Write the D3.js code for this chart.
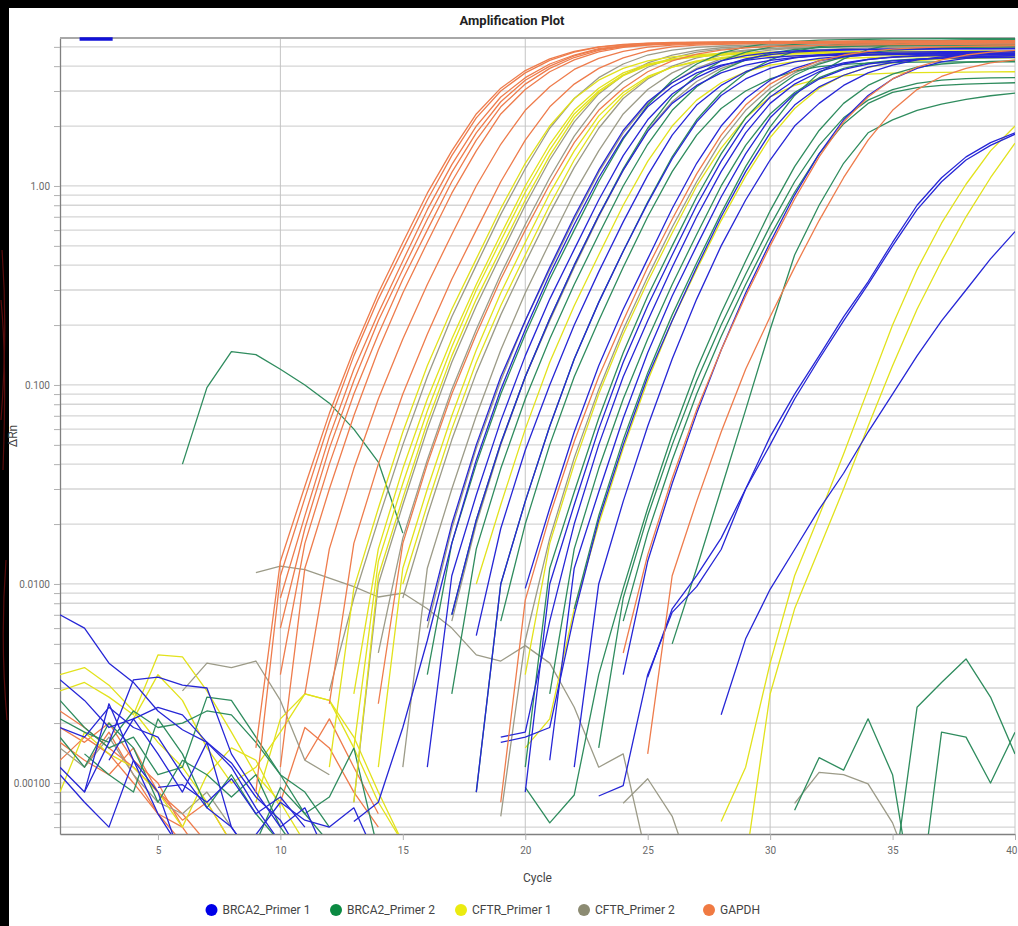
<!DOCTYPE html>
<html>
<head>
<meta charset="utf-8">
<script src="https://cdn.jsdelivr.net/npm/d3@7"></script>
<style>
  body { margin: 0; background: #fff; }
  svg { display: block; font-family: Roboto, "Liberation Sans", Arial, sans-serif; }
</style>
</head>
<body>
<div id="chart"></div>
<script>
// ---- data (dRn per cycle; each curve starts at cycle s) ----
var groups = ["BRCA2_Primer 1", "BRCA2_Primer 2", "CFTR_Primer 1", "CFTR_Primer 2", "GAPDH"];
var cycleTicks = [5, 10, 15, 20, 25, 30, 35, 40];
var yGrid = [0.0006, 0.0007, 0.0008, 0.0009,
  0.001, 0.002, 0.003, 0.004, 0.005, 0.006, 0.007, 0.008, 0.009,
  0.01, 0.02, 0.03, 0.04, 0.05, 0.06, 0.07, 0.08, 0.09,
  0.1, 0.2, 0.3, 0.4, 0.5, 0.6, 0.7, 0.8, 0.9,
  1, 2, 3, 4, 5];
var yLabels = [0.001, 0.01, 0.1, 1];

var gapdh = [
  {s: 9, v: [0.0015,0.013,0.031,0.072,0.15,0.29,0.52,0.92,1.5,2.3,3.1,3.8,4.35,4.75,5.0,5.15,5.22,5.26,5.28,5.3,5.31,5.32,5.33,5.33,5.34,5.35,5.35,5.36,5.36,5.37,5.37,5.38]},
  {s: 9, v: [0.0009,0.011,0.027,0.065,0.14,0.27,0.48,0.85,1.42,2.2,3.0,3.7,4.28,4.7,4.98,5.12,5.2,5.24,5.26,5.28,5.29,5.3,5.31,5.31,5.32,5.33,5.33,5.34,5.34,5.35,5.35,5.35]},
  {s: 10, v: [0.0085,0.022,0.055,0.12,0.23,0.42,0.76,1.28,2.0,2.8,3.5,4.1,4.55,4.9,5.06,5.15,5.2,5.23,5.25,5.26,5.27,5.28,5.29,5.3,5.3,5.31,5.31,5.32,5.32,5.33,5.33]},
  {s: 10, v: [0.006,0.019,0.048,0.105,0.21,0.38,0.68,1.17,1.85,2.65,3.4,4.0,4.5,4.85,5.05,5.14,5.2,5.22,5.24,5.25,5.26,5.27,5.28,5.28,5.29,5.29,5.3,5.3,5.3,5.31,5.31]},
  {s: 10, v: [0.0035,0.016,0.04,0.09,0.18,0.34,0.6,1.05,1.7,2.5,3.25,3.9,4.42,4.8,5.02,5.13,5.18,5.2,5.22,5.23,5.24,5.25,5.26,5.26,5.27,5.27,5.28,5.28,5.28,5.29,5.29]},
  {s: 10, v: [0.0012,0.012,0.03,0.07,0.15,0.29,0.52,0.92,1.5,2.3,3.05,3.75,4.3,4.72,4.97,5.1,5.16,5.19,5.21,5.22,5.23,5.24,5.24,5.25,5.25,5.26,5.26,5.26,5.27,5.27,5.27]},
  {s: 11, v: [0.0028,0.015,0.038,0.085,0.17,0.32,0.57,1.0,1.62,2.4,3.15,3.85,4.38,4.75,4.98,5.1,5.16,5.19,5.21,5.22,5.23,5.24,5.24,5.25,5.25,5.25,5.26,5.26,5.26,5.26]},
  {s: 12, v: [0.0025,0.016,0.04,0.09,0.18,0.34,0.6,1.05,1.7,2.5,3.25,3.9,4.4,4.78,5.0,5.1,5.15,5.18,5.2,5.21,5.22,5.22,5.23,5.23,5.24,5.24,5.24,5.25,5.25]},
  {s: 14, v: [0.0025,0.016,0.04,0.09,0.18,0.34,0.6,1.02,1.65,2.4,3.1,3.75,4.25,4.6,4.82,4.95,5.02,5.06,5.09,5.11,5.12,5.13,5.14,5.15,5.15,5.16,5.16]},
  {s: 19, v: [0.0008,0.0083,0.022,0.052,0.11,0.21,0.39,0.68,1.15,1.8,2.55,3.25,3.8,4.25,4.55,4.75,4.87,4.95,5.0,5.03,5.05,5.07]},
  {s: 24, v: [0.0045,0.014,0.034,0.075,0.15,0.28,0.5,0.86,1.4,2.1,2.8,3.45,3.95,4.3,4.55,4.7,4.8]},
  {s: 25, v: [0.0014,0.011,0.026,0.058,0.12,0.22,0.39,0.67,1.1,1.7,2.4,3.05,3.55,3.9,4.15,4.3]}
];
var gapdhNoise = [
  {s: 1, v: [0.0023,0.0019,0.0015,0.0012,0.0009,0.0007,0.0005]},
  {s: 1, v: [0.0019,0.0016,0.002,0.0013,0.001,0.0006]},
  {s: 1, v: [0.0016,0.0013,0.0011,0.0015,0.0009,0.00065,0.0008,0.0005]},
  {s: 1, v: [0.0013,0.0017,0.0014,0.001,0.0007,0.0005]},
  {s: 2, v: [0.0012,0.0018,0.0011,0.0007,0.0006,0.0004]},
  {s: 10, v: [0.0008,0.0019,0.0015,0.0009,0.0006]},
  {s: 11, v: [0.0013,0.0021,0.0012,0.0007]}
];

var cftrP1 = [
  {s: 12, v: [0.0012,0.0095,0.024,0.058,0.125,0.24,0.43,0.77,1.3,2.0,2.75,3.4,3.9,4.25,4.45,4.57,4.63,4.67,4.7,4.72,4.73,4.74,4.75,4.75,4.76,4.76,4.77,4.77,4.77]},
  {s: 13, v: [0.0028,0.015,0.038,0.085,0.17,0.32,0.57,1.0,1.62,2.4,3.1,3.7,4.1,4.35,4.5,4.58,4.62,4.65,4.67,4.68,4.69,4.7,4.7,4.71,4.71,4.72,4.72,4.72]},
  {s: 13, v: [0.0015,0.013,0.032,0.074,0.155,0.3,0.53,0.93,1.52,2.3,3.0,3.62,4.05,4.32,4.48,4.57,4.61,4.64,4.66,4.67,4.68,4.69,4.69,4.7,4.7,4.7,4.71,4.71]},
  {s: 13, v: [0.0008,0.011,0.027,0.065,0.14,0.27,0.48,0.85,1.42,2.2,2.95,3.58,4.02,4.3,4.46,4.55,4.6,4.62,4.64,4.65,4.66,4.67,4.67,4.68,4.68,4.68,4.69,4.69]},
  {s: 14, v: [0.0012,0.012,0.03,0.07,0.15,0.29,0.52,0.92,1.5,2.25,2.95,3.55,3.95,4.2,4.35,4.43,4.48,4.5,4.52,4.53,4.54,4.54,4.55,4.55,4.55,4.56,4.56]},
  {s: 15, v: [0.01,0.025,0.06,0.13,0.25,0.45,0.8,1.35,2.1,2.85,3.5,3.95,4.25,4.42,4.52,4.57,4.6,4.62,4.63,4.64,4.65,4.65,4.66,4.66,4.66,4.67]},
  {s: 18, v: [0.01,0.025,0.06,0.13,0.25,0.45,0.8,1.33,2.0,2.7,3.3,3.75,4.05,4.22,4.32,4.38,4.42,4.44,4.45,4.46,4.47,4.47,4.48]},
  {s: 20, v: [0.0035,0.016,0.04,0.09,0.18,0.33,0.58,1.0,1.55,2.2,2.8,3.2,3.45,3.58,3.65,3.69,3.71,3.72,3.73,3.74,3.75]},
  {s: 20, v: [0.0015,0.0021,0.0075,0.02,0.048,0.105,0.21,0.38,0.67,1.12,1.75,2.45,3.1,3.6,3.95,4.15,4.27,4.34,4.38,4.4,4.41]},
  {s: 28, v: [0.00064,0.0012,0.004,0.011,0.022,0.045,0.095,0.2,0.38,0.65,1.02,1.5,2.0]},
  {s: 29, v: [0.0004,0.0028,0.0075,0.015,0.03,0.062,0.125,0.24,0.42,0.7,1.1,1.64]}
];
var cftrP1Noise = [
  {s: 1, v: [0.0035,0.0038,0.0031,0.0023,0.0016,0.0012,0.0008,0.0005]},
  {s: 1, v: [0.0029,0.0032,0.0027,0.0022,0.0044,0.0043,0.0029,0.0018,0.0011,0.0008,0.0005]},
  {s: 1, v: [0.0009,0.0018,0.0014,0.0012,0.0009,0.0006,0.0011,0.0015,0.0013,0.00075]},
  {s: 4, v: [0.0021,0.0035,0.0026,0.0015,0.001,0.0012,0.0018,0.0028,0.0026,0.0015,0.0008,0.0005]},
  {s: 9, v: [0.0008,0.0021,0.0028,0.0026,0.0017,0.0009,0.0005]}
];

var cftrP2 = [
  {s: 12, v: [0.0029,0.0085,0.021,0.05,0.11,0.22,0.4,0.72,1.22,1.95,2.75,3.5,4.1,4.55,4.82,4.97,5.05,5.1,5.13,5.15,5.16,5.17,5.18,5.18,5.19,5.19,5.2,5.2,5.2]},
  {s: 13, v: [0.0008,0.01,0.025,0.06,0.13,0.25,0.45,0.8,1.35,2.1,2.9,3.6,4.15,4.55,4.8,4.95,5.03,5.07,5.1,5.12,5.13,5.14,5.15,5.15,5.16,5.16,5.16,5.17]},
  {s: 14, v: [0.0045,0.017,0.042,0.095,0.19,0.36,0.64,1.1,1.78,2.6,3.35,3.95,4.4,4.7,4.87,4.96,5.02,5.05,5.07,5.08,5.09,5.1,5.1,5.11,5.11,5.11,5.12]},
  {s: 15, v: [0.0085,0.022,0.053,0.115,0.225,0.41,0.73,1.24,1.95,2.75,3.45,4.0,4.4,4.67,4.82,4.9,4.95,4.98,5.0,5.01,5.02,5.03,5.03,5.04,5.04,5.04]},
  {s: 15, v: [0.0012,0.012,0.03,0.07,0.15,0.29,0.52,0.92,1.5,2.3,3.05,3.7,4.2,4.55,4.78,4.9,4.97,5.01,5.04,5.06,5.07,5.08,5.08,5.09,5.09,5.09]},
  {s: 16, v: [0.006,0.019,0.048,0.105,0.21,0.38,0.68,1.17,1.85,2.6,3.3,3.9,4.35,4.65,4.82,4.92,4.98,5.02,5.04,5.05,5.06,5.07,5.07,5.08,5.08]},
  {s: 17, v: [0.0065,0.02,0.05,0.11,0.21,0.39,0.7,1.2,1.9,2.65,3.35,3.9,4.3,4.57,4.74,4.84,4.9,4.94,4.96,4.97,4.98,4.98,4.99,4.99]},
  {s: 19, v: [0.00068,0.0052,0.017,0.043,0.095,0.19,0.35,0.62,1.05,1.68,2.4,3.1,3.7,4.15,4.45,4.65,4.77,4.85,4.9,4.93,4.95,4.96]}
];
var cftrP2Noise = [
  {s: 9, v: [0.0114,0.0123,0.0118,0.0107,0.0097,0.0086,0.009,0.0075,0.006,0.0044,0.0041,0.0049,0.004,0.0024,0.0012,0.0014,0.0004]},
  {s: 6, v: [0.0029,0.004,0.0038,0.0041,0.0026,0.0013,0.0011]},
  {s: 24, v: [0.00079,0.00105,0.00068,0.0003]},
  {s: 31, v: [0.00079,0.00113,0.0011,0.00099,0.00063,0.0003]},
  {s: 1, v: [0.0015,0.0012,0.0017,0.0011,0.0008,0.0007,0.0009,0.0006]}
];

var brca2P1 = [
  {s: 13, v: [0.00064,0.0008,0.0019,0.0052,0.016,0.042,0.095,0.19,0.36,0.64,1.1,1.75,2.5,3.15,3.7,4.05,4.28,4.42,4.5,4.55,4.58,4.6,4.61,4.62,4.62,4.63,4.63,4.63]},
  {s: 16, v: [0.0065,0.02,0.05,0.11,0.21,0.39,0.7,1.2,1.9,2.65,3.3,3.85,4.25,4.52,4.68,4.77,4.82,4.85,4.87,4.88,4.89,4.9,4.9,4.9,4.91]},
  {s: 16, v: [0.0012,0.011,0.028,0.066,0.14,0.27,0.48,0.85,1.42,2.15,2.9,3.5,4.0,4.35,4.57,4.7,4.77,4.81,4.84,4.86,4.87,4.88,4.88,4.89,4.89]},
  {s: 17, v: [0.007,0.021,0.051,0.11,0.215,0.4,0.71,1.2,1.88,2.6,3.2,3.7,4.05,4.28,4.42,4.5,4.55,4.58,4.6,4.61,4.62,4.62,4.63,4.63]},
  {s: 18, v: [0.0055,0.019,0.047,0.1,0.2,0.37,0.66,1.13,1.8,2.55,3.2,3.75,4.15,4.4,4.55,4.63,4.68,4.7,4.72,4.73,4.73,4.74,4.74]},
  {s: 18, v: [0.0009,0.01,0.026,0.062,0.135,0.26,0.47,0.82,1.37,2.1,2.85,3.45,3.9,4.2,4.38,4.48,4.54,4.57,4.59,4.6,4.61,4.61,4.62]},
  {s: 19, v: [0.0017,0.0018,0.0065,0.02,0.05,0.11,0.21,0.39,0.7,1.18,1.85,2.6,3.25,3.75,4.1,4.32,4.45,4.52,4.56,4.58,4.6,4.61]},
  {s: 19, v: [0.0016,0.0017,0.0019,0.007,0.021,0.05,0.11,0.21,0.39,0.7,1.18,1.85,2.55,3.15,3.6,3.95,4.18,4.32,4.4,4.45,4.48,4.5]},
  {s: 20, v: [0.0095,0.024,0.058,0.125,0.24,0.43,0.77,1.3,2.0,2.75,3.4,3.9,4.25,4.45,4.56,4.62,4.66,4.68,4.69,4.7,4.7]},
  {s: 20, v: [0.0009,0.01,0.025,0.06,0.13,0.25,0.45,0.8,1.33,2.05,2.8,3.4,3.85,4.15,4.33,4.43,4.49,4.52,4.54,4.55,4.56]},
  {s: 21, v: [0.0013,0.012,0.029,0.068,0.145,0.28,0.5,0.88,1.45,2.2,2.9,3.45,3.85,4.1,4.25,4.33,4.38,4.41,4.42,4.43]},
  {s: 22, v: [0.0012,0.01,0.026,0.062,0.135,0.27,0.5,0.85,1.35,2.0,2.6,3.2,3.7,4.05,4.3,4.45,4.52,4.57,4.6]},
  {s: 24, v: [0.0035,0.013,0.032,0.072,0.15,0.29,0.52,0.9,1.45,2.15,2.85,3.45,3.9,4.2,4.38,4.48,4.53]},
  {s: 23, v: [0.00086,0.00097,0.0035,0.0072,0.0097,0.0149,0.03,0.055,0.09,0.14,0.22,0.33,0.52,0.8,1.1,1.4,1.65,1.85]},
  {s: 25, v: [0.0034,0.0075,0.011,0.017,0.03,0.05,0.085,0.135,0.21,0.32,0.5,0.76,1.05,1.35,1.6,1.82]},
  {s: 28, v: [0.0022,0.0053,0.0094,0.0149,0.0237,0.036,0.058,0.09,0.14,0.21,0.3,0.43,0.59]}
];
var brca2P1Noise = [
  {s: 1, v: [0.007,0.006,0.004,0.0032,0.0023,0.00185,0.0016,0.00126,0.00085,0.00065,0.0004]},
  {s: 1, v: [0.0033,0.0026,0.0019,0.0021,0.0024,0.0022,0.0016,0.0012,0.00075,0.0005]},
  {s: 1, v: [0.0012,0.0009,0.0016,0.0033,0.0034,0.0031,0.003,0.0014,0.0009,0.0006,0.00075,0.0004]},
  {s: 1, v: [0.0011,0.0008,0.0006,0.0013,0.0009,0.0004]},
  {s: 2, v: [0.0009,0.0025,0.0013,0.0007,0.00045]},
  {s: 3, v: [0.0013,0.0021,0.0014,0.0009,0.0016,0.0006,0.0004]},
  {s: 5, v: [0.00095,0.00098,0.0008,0.00105,0.0007,0.00085,0.0006]},
  {s: 1, v: [0.0019,0.0017,0.0024,0.0019,0.0017,0.0011,0.00075,0.0006,0.0004]},
  {s: 9, v: [0.00055,0.0008,0.00065,0.0006,0.00075,0.0004]}
];

var brca2P2 = [
  {s: 16, v: [0.0035,0.016,0.04,0.09,0.18,0.34,0.6,1.05,1.72,2.55,3.4,4.1,4.65,5.0,5.22,5.33,5.4,5.44,5.46,5.48,5.49,5.5,5.5,5.51,5.51]},
  {s: 17, v: [0.007,0.021,0.051,0.11,0.215,0.4,0.71,1.22,1.95,2.8,3.6,4.25,4.7,4.98,5.15,5.25,5.31,5.35,5.37,5.38,5.39,5.4,5.4,5.41]},
  {s: 17, v: [0.0028,0.015,0.038,0.085,0.17,0.32,0.57,1.0,1.62,2.4,3.15,3.8,4.3,4.65,4.85,4.96,5.02,5.06,5.08,5.09,5.1,5.1,5.11,5.11]},
  {s: 18, v: [0.0009,0.01,0.026,0.062,0.135,0.26,0.47,0.83,1.4,2.15,2.95,3.7,4.3,4.75,5.02,5.16,5.23,5.27,5.29,5.3,5.31,5.31,5.32]},
  {s: 19, v: [0.0065,0.02,0.05,0.11,0.21,0.39,0.7,1.18,1.8,2.45,3.0,3.45,3.78,3.98,4.08,4.14,4.17,4.19,4.2,4.2,4.21,4.21]},
  {s: 20, v: [0.0012,0.012,0.029,0.068,0.145,0.28,0.5,0.88,1.45,2.2,2.95,3.6,4.1,4.45,4.68,4.82,4.9,4.95,4.97,4.99,5.0]},
  {s: 21, v: [0.0028,0.015,0.038,0.085,0.17,0.32,0.57,1.0,1.6,2.3,2.95,3.5,3.9,4.15,4.28,4.35,4.38,4.4,4.41,4.42]},
  {s: 22, v: [0.0075,0.022,0.053,0.115,0.225,0.41,0.73,1.25,1.98,2.85,3.7,4.35,4.85,5.15,5.3,5.38,5.42,5.44,5.45]},
  {s: 20, v: [0.00095,0.00063,0.00087,0.0035,0.0095,0.024,0.056,0.12,0.23,0.42,0.75,1.25,1.9,2.6,3.2,3.65,3.95,4.1,4.18,4.22,4.25]},
  {s: 23, v: [0.0015,0.0085,0.022,0.05,0.105,0.2,0.36,0.63,1.05,1.6,2.2,2.7,3.05,3.28,3.4,3.46,3.49,3.5]},
  {s: 24, v: [0.0065,0.018,0.042,0.09,0.175,0.32,0.56,0.93,1.45,2.05,2.6,2.95,3.12,3.2,3.25,3.28,3.3]},
  {s: 26, v: [0.005,0.012,0.03,0.075,0.19,0.45,0.8,1.3,1.85,2.15,2.4,2.58,2.72,2.84,2.93]}
];
var brca2P2Noise = [
  {s: 6, v: [0.04,0.097,0.147,0.142,0.12,0.1,0.081,0.06,0.041,0.018]},
  {s: 1, v: [0.0021,0.0018,0.0016,0.0023,0.0019,0.002,0.0023,0.0022,0.0016,0.0011,0.0007,0.0005]},
  {s: 1, v: [0.0026,0.0019,0.0015,0.0017,0.0011,0.0012,0.0027,0.0026,0.0017,0.0011,0.0009,0.0006]},
  {s: 1, v: [0.0017,0.0012,0.002,0.0015,0.0008,0.0013,0.0011,0.00085,0.0011,0.0006,0.0004]},
  {s: 2, v: [0.0014,0.0011,0.0009,0.0021,0.0014,0.00075,0.0011,0.0007,0.0005]},
  {s: 9, v: [0.0005,0.00095,0.0007,0.00085,0.0015,0.00045]},
  {s: 31, v: [0.00073,0.00134,0.00116,0.0021,0.0011,0.0002]},
  {s: 35, v: [0.0003,0.0024,0.0032,0.0042,0.0027,0.0014]},
  {s: 36, v: [0.0002,0.0018,0.0017,0.001,0.0018]}
];

// ---- layout / style ----
var svgWidth = 1018, svgHeight = 926;
var plot = {left: 60, right: 1015, top: 38, bottom: 834};

var lineColor = {
  "BRCA2_Primer 1": "#2626d6",
  "BRCA2_Primer 2": "#2f8c5e",
  "CFTR_Primer 1": "#e2e21c",
  "CFTR_Primer 2": "#9c9b88",
  "GAPDH": "#ee7c4c"
};
var legendColor = {
  "BRCA2_Primer 1": "#0000e8",
  "BRCA2_Primer 2": "#0b8a42",
  "CFTR_Primer 1": "#ebeb10",
  "CFTR_Primer 2": "#8c8b72",
  "GAPDH": "#f07a42"
};

var svg = d3.select("#chart").append("svg")
  .attr("width", svgWidth)
  .attr("height", svgHeight);

// black frame strips like the screenshot
svg.append("rect").attr("x", 0).attr("y", 0).attr("width", svgWidth).attr("height", 8).attr("fill", "#000");
svg.append("rect").attr("x", 0).attr("y", 0).attr("width", 9).attr("height", svgHeight).attr("fill", "#000");
[[2, 250, 8, 330, 1, 420], [6, 560, 0, 640, 7, 720], [1, 300, 7, 360, 3, 470]].forEach(function(p) {
  svg.append("path")
    .attr("d", "M" + p[0] + "," + p[1] + " Q" + p[2] + "," + p[3] + " " + p[4] + "," + p[5])
    .attr("fill", "none").attr("stroke", "#5a0c0c").attr("stroke-width", 1.2);
});

var x = d3.scaleLinear().domain([1, 40]).range([plot.left, plot.right]);
var y = d3.scaleLog().domain([0.000554, 5.54]).range([plot.bottom, plot.top]);

// title
svg.append("text")
  .attr("x", 512).attr("y", 25)
  .attr("text-anchor", "middle")
  .style("font-size", "13px").style("font-weight", "bold")
  .attr("fill", "#222")
  .text("Amplification Plot");

// grid
var grid = svg.append("g");
grid.selectAll("line.h").data(yGrid).enter().append("line")
  .attr("x1", plot.left).attr("x2", plot.right)
  .attr("y1", d => y(d)).attr("y2", d => y(d))
  .attr("stroke", "#d5d5d5").attr("stroke-width", 1.3);
grid.selectAll("line.v").data([10, 20, 30]).enter().append("line")
  .attr("x1", d => x(d)).attr("x2", d => x(d))
  .attr("y1", plot.top).attr("y2", plot.bottom)
  .attr("stroke", "#c4c4c4").attr("stroke-width", 1);

// axes
var fmt = d3.format(".3r");
var leftAxis = d3.axisLeft(y)
  .tickValues(yGrid)
  .tickSize(6)
  .tickSizeOuter(0)
  .tickPadding(4)
  .tickFormat(d => yLabels.indexOf(d) >= 0 ? fmt(d) : "");
var yAxisG = svg.append("g")
  .attr("transform", `translate(${plot.left}, 0)`)
  .call(leftAxis);

var bottomAxis = d3.axisBottom(x)
  .tickValues(cycleTicks)
  .tickSize(6)
  .tickSizeOuter(0)
  .tickPadding(7);
var xAxisG = svg.append("g")
  .attr("transform", `translate(0, ${plot.bottom})`)
  .call(bottomAxis);

[yAxisG, xAxisG].forEach(function(g) {
  g.selectAll("path").attr("stroke", "#808080").attr("stroke-width", 1.3);
  g.selectAll("line").attr("stroke", "#b0b0b0");
  g.selectAll("text").attr("fill", "#6a6a6a").style("font-size", "10px").style("font-family", "Roboto, Arial, sans-serif");
});
// last cycle label sits at the right edge; keep it inside the page
xAxisG.selectAll(".tick text").filter(d => d === 40)
  .attr("text-anchor", "end").attr("dx", 2);

// top and right frame
svg.append("line")
  .attr("x1", plot.left).attr("x2", plot.right)
  .attr("y1", plot.top).attr("y2", plot.top)
  .attr("stroke", "#a8a8a8").attr("stroke-width", 2);
svg.append("line")
  .attr("x1", plot.right).attr("x2", plot.right)
  .attr("y1", plot.top).attr("y2", plot.bottom)
  .attr("stroke", "#c8c8c8").attr("stroke-width", 1);

// curves
svg.append("clipPath").attr("id", "plotClip")
  .append("rect")
  .attr("x", plot.left).attr("y", plot.top)
  .attr("width", plot.right - plot.left).attr("height", plot.bottom - plot.top);

var line = d3.line()
  .defined(d => d.r > 0)
  .x(d => x(d.c))
  .y(d => y(d.r));

function toPoints(curve) {
  return curve.v.map(function(r, i) { return {c: curve.s + i, r: r}; });
}

var curveLayer = svg.append("g").attr("clip-path", "url(#plotClip)");

var noiseSets = [
  ["GAPDH", gapdhNoise], ["CFTR_Primer 2", cftrP2Noise], ["CFTR_Primer 1", cftrP1Noise],
  ["BRCA2_Primer 2", brca2P2Noise], ["BRCA2_Primer 1", brca2P1Noise]
];
var ampSets = [
  ["CFTR_Primer 2", cftrP2], ["CFTR_Primer 1", cftrP1], ["BRCA2_Primer 2", brca2P2],
  ["BRCA2_Primer 1", brca2P1], ["GAPDH", gapdh]
];

noiseSets.concat(ampSets).forEach(function(set) {
  curveLayer.append("g")
    .selectAll("path")
    .data(set[1])
    .enter()
    .append("path")
    .attr("d", d => line(toPoints(d)))
    .attr("fill", "none")
    .attr("stroke", lineColor[set[0]])
    .attr("stroke-width", 1.3)
    .attr("stroke-linejoin", "round");
});

// threshold marker at top-left
svg.append("line")
  .attr("x1", x(1.8)).attr("x2", x(3.15))
  .attr("y1", plot.top + 1).attr("y2", plot.top + 1)
  .attr("stroke", "#1010d8").attr("stroke-width", 3.5);

// axis titles
svg.append("text")
  .attr("x", (plot.left + plot.right) / 2).attr("y", 882)
  .attr("text-anchor", "middle")
  .style("font-size", "12px")
  .attr("fill", "#444")
  .text("Cycle");

svg.append("text")
  .attr("transform", "translate(17, 436) rotate(-90)")
  .attr("text-anchor", "middle")
  .style("font-size", "12px")
  .attr("fill", "#444")
  .text("\u0394Rn");

// legend
var legendX = [211.5, 336, 461, 584, 709];
var legend = svg.append("g").selectAll("g")
  .data(groups)
  .enter()
  .append("g")
  .attr("transform", (d, i) => `translate(${legendX[i]}, 910)`);
legend.append("circle")
  .attr("r", 6)
  .attr("fill", d => legendColor[d]);
legend.append("text")
  .attr("x", 11)
  .attr("dy", "0.35em")
  .style("font-size", "12px")
  .attr("fill", "#444")
  .text(d => d);
</script>
</body>
</html>
